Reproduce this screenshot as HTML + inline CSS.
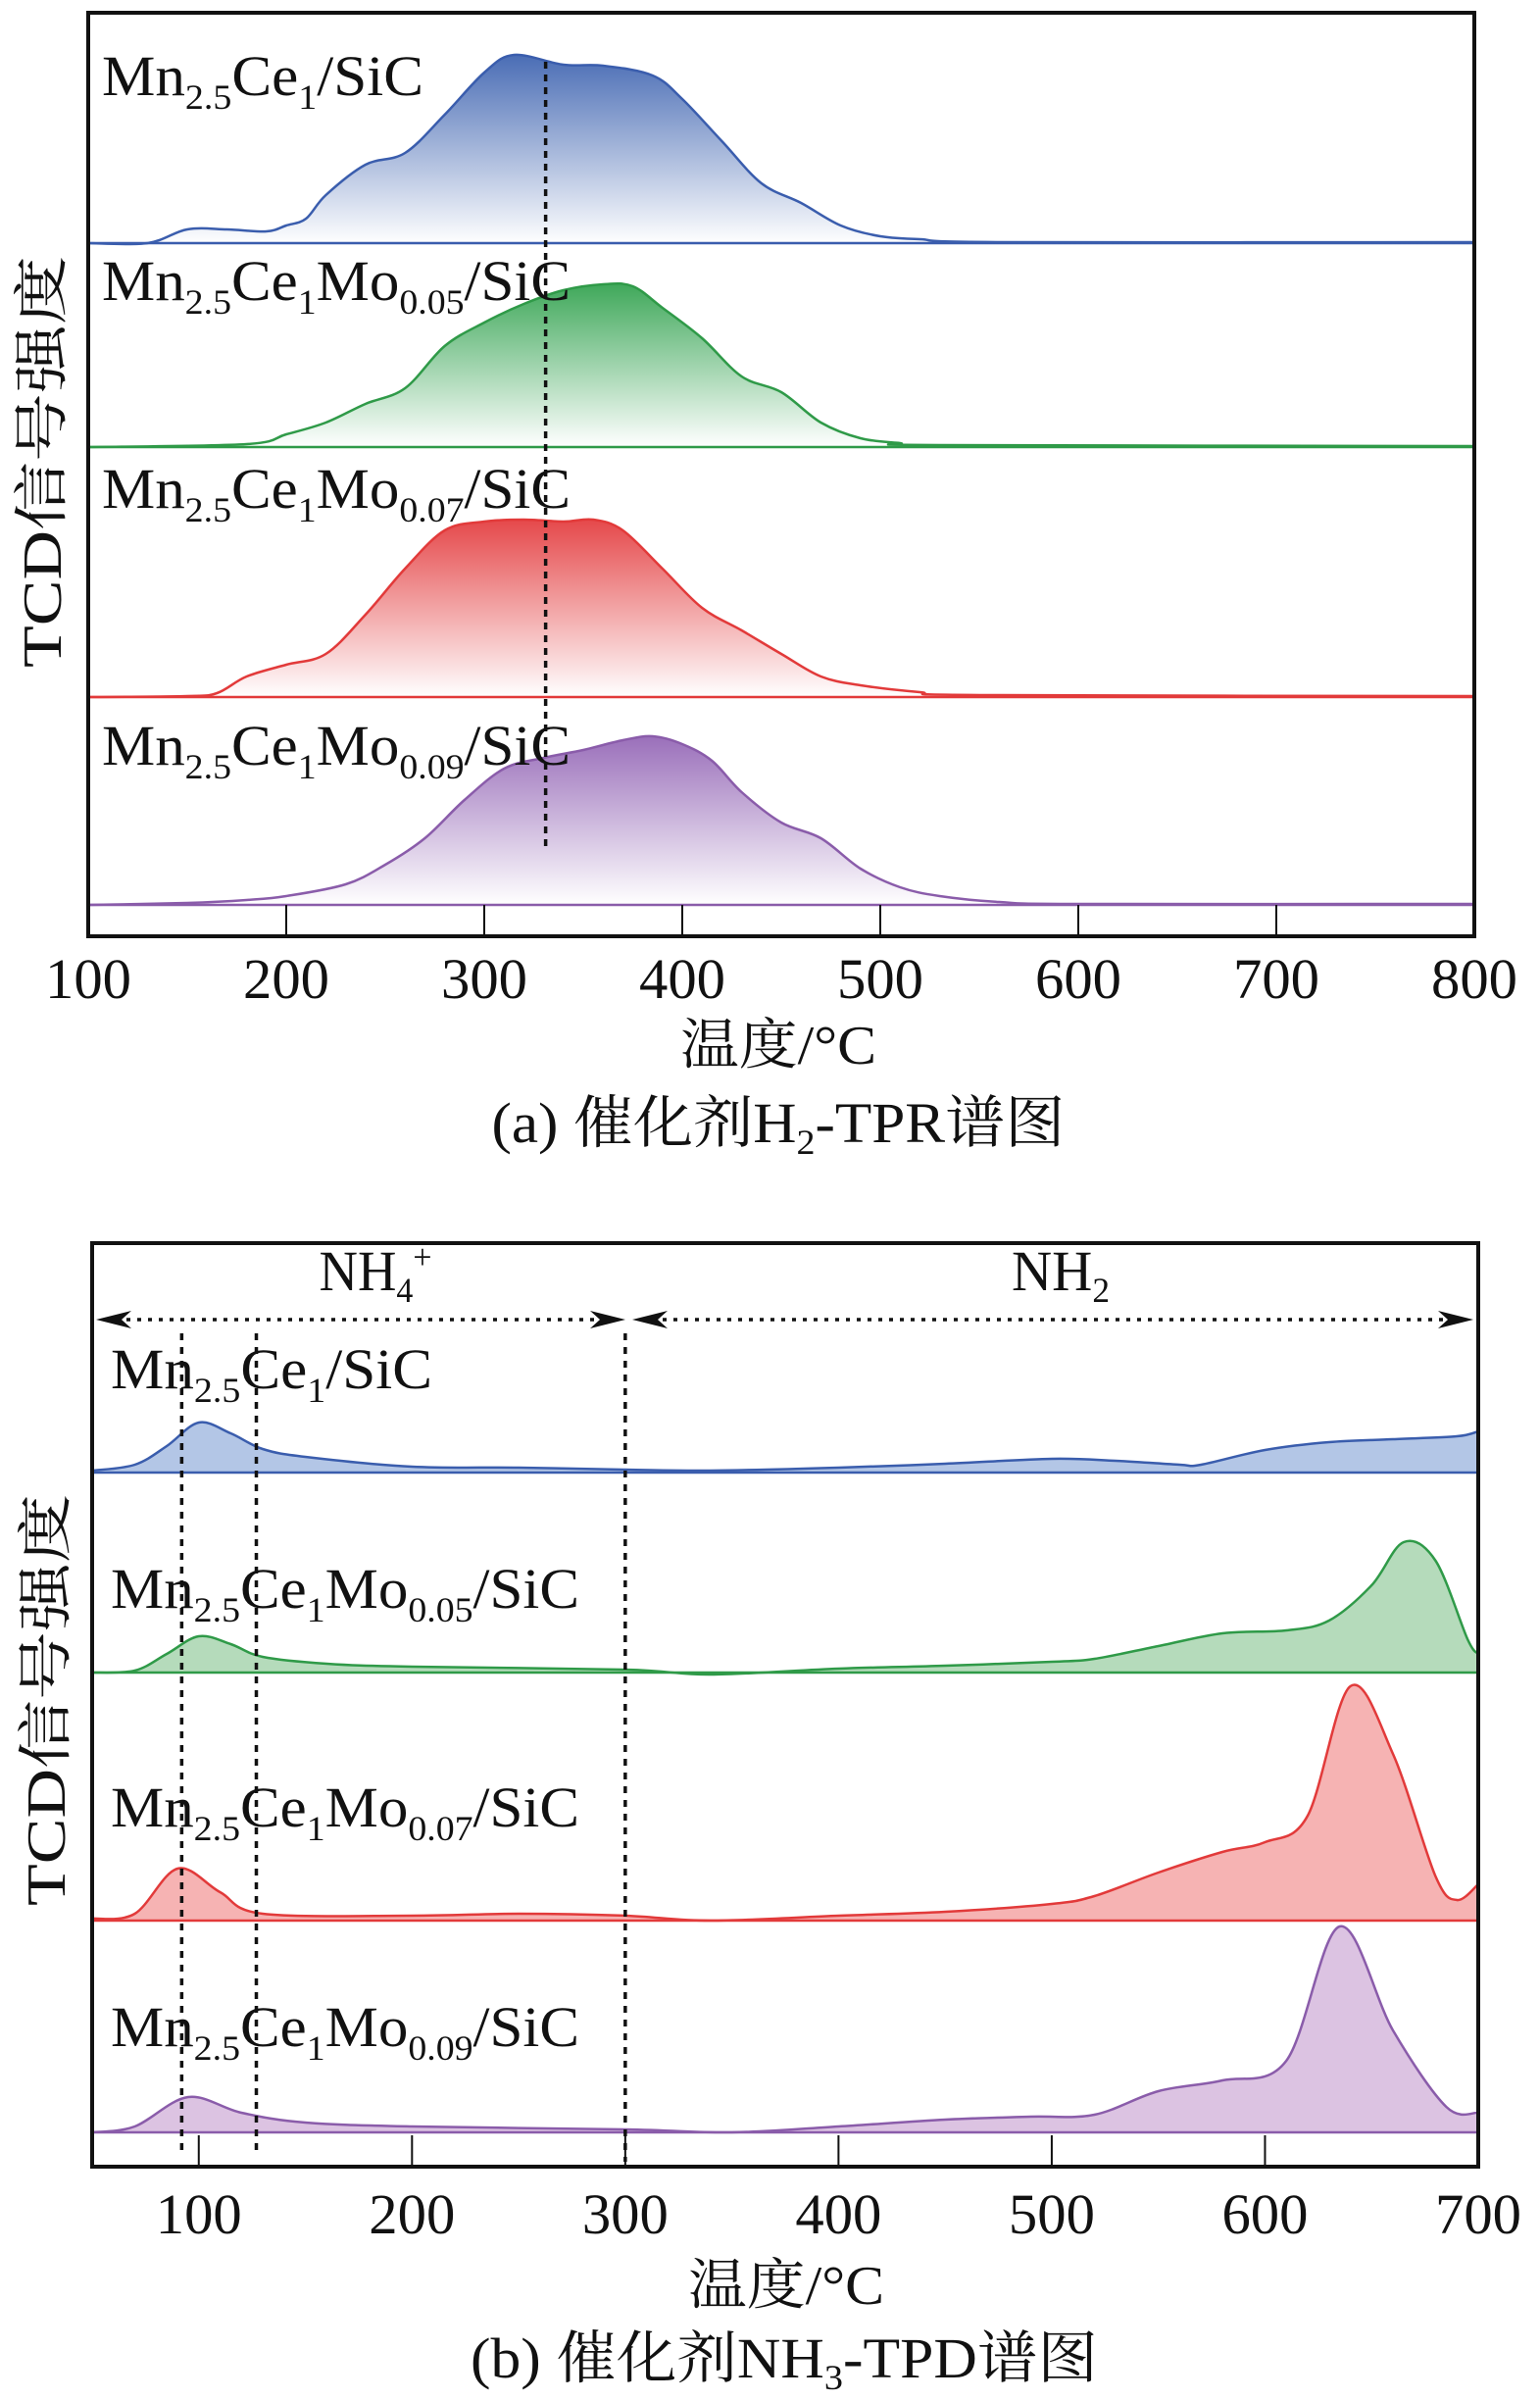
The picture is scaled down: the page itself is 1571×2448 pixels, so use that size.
<!DOCTYPE html>
<html><head><meta charset="utf-8"><style>
html,body{margin:0;padding:0;background:#fff;}
svg{display:block;}
text{font-family:"Liberation Serif","Noto Serif CJK SC",serif;fill:#111;}
</style></head><body>
<svg id="fig" width="1571" height="2448" viewBox="0 0 1571 2448" xmlns="http://www.w3.org/2000/svg">
<defs>
<linearGradient id="gBlue" x1="0" y1="0" x2="0" y2="1"><stop offset="0" stop-color="#4a6db5"/><stop offset="1" stop-color="#ffffff"/></linearGradient>
<linearGradient id="gGreen" x1="0" y1="0" x2="0" y2="1"><stop offset="0" stop-color="#3fa85a"/><stop offset="1" stop-color="#ffffff"/></linearGradient>
<linearGradient id="gRed" x1="0" y1="0" x2="0" y2="1"><stop offset="0" stop-color="#e5484a"/><stop offset="1" stop-color="#ffffff"/></linearGradient>
<linearGradient id="gPurple" x1="0" y1="0" x2="0" y2="1"><stop offset="0" stop-color="#9a6fba"/><stop offset="1" stop-color="#ffffff"/></linearGradient>
</defs>
<g id="panelA"></g>
<g id="panelB"></g>
</svg>
<script>
// ---- Panel (a) H2-TPR data (temperature °C, intensity a.u.) ----
const aTicks = [100,200,300,400,500,600,700,800];
const aBlueT = [100,130,150,170,190,200,210,220,240,260,280,300,315,340,360,385,400,420,440,460,480,500,520,560,800];
const aBlueV = [0,0,14,14,12,18,25,49,80,92,131,174,192,182,181,171,147,104,61,41,18,7,4,1,1];
const aGreenT = [100,180,200,220,240,260,280,300,320,340,360,375,390,410,430,450,470,490,510,530,800];
const aGreenV = [0,3,13,25,44,60,103,127,146,160,166,164,142,111,72,56,25,9,4,2,1];
const aRedT = [100,150,165,180,200,220,240,260,280,300,320,340,355,370,390,410,430,450,470,490,520,550,800];
const aRedV = [0,1,4,21,33,44,84,131,170,179,181,179,181,170,131,91,68,44,21,12,5,2,1];
const aPurpleT = [100,150,180,200,230,250,270,290,310,330,350,370,385,400,415,430,450,470,490,510,530,560,600,800];
const aPurpleV = [0,2,5,9,21,41,68,107,139,150,158,168,172,164,147,115,84,68,37,18,9,3,1,1];
const aRefT = 331;

// ---- Panel (b) NH3-TPD data ----
const bTicks = [100,200,300,400,500,600,700];
const bBlueT = [50,70,85,100,115,130,150,200,250,300,340,400,450,500,530,560,570,600,630,660,690,700];
const bBlueV = [2,8,27,51,40,24,16,6,5,3,2,5,9,14,12,8,8,23,31,34,37,42];
const bGreenT = [50,70,85,100,115,130,160,200,300,340,400,450,500,520,550,580,610,630,650,665,680,695,700];
const bGreenV = [0,2,19,37,29,16,9,6,3,-2,4,7,11,14,27,40,43,53,89,133,114,34,19];
const bRedT = [50,70,90,110,130,200,250,300,340,400,450,500,520,550,580,600,620,640,660,680,690,700];
const bRedV = [2,7,53,29,7,5,7,5,0,5,9,17,25,49,70,80,107,239,170,45,21,37];
const bPurpleT = [50,70,95,120,150,200,300,350,400,450,490,520,550,580,610,635,660,685,700];
const bPurpleV = [0,6,36,20,10,6,3,0,6,13,16,18,42,53,73,210,104,26,20];
const bRefT = [92,127,300];

const NS = "http://www.w3.org/2000/svg";
function mk(parent, tag, attrs){ const e=document.createElementNS(NS,tag); for(const k in attrs) e.setAttribute(k,attrs[k]); parent.appendChild(e); return e; }

// axis functions
const axA = {x0:90, x1:1504, y0:13, y1:955, tmin:100, tmax:800};
const axB = {x0:94, x1:1508, y0:1268, y1:2210, tmin:50, tmax:700};
function sx(ax,t){ return ax.x0 + (t-ax.tmin)*(ax.x1-ax.x0)/(ax.tmax-ax.tmin); }
function sy(base,v){ return base - v; }

function smoothPath(pts){
  let d = "M"+pts[0][0].toFixed(1)+","+pts[0][1].toFixed(1);
  for(let i=0;i<pts.length-1;i++){
    const p0=pts[Math.max(0,i-1)], p1=pts[i], p2=pts[i+1], p3=pts[Math.min(pts.length-1,i+2)];
    const c1=[p1[0]+(p2[0]-p0[0])/6, p1[1]+(p2[1]-p0[1])/6];
    const c2=[p2[0]-(p3[0]-p1[0])/6, p2[1]-(p3[1]-p1[1])/6];
    d+=" C"+c1[0].toFixed(1)+","+c1[1].toFixed(1)+" "+c2[0].toFixed(1)+","+c2[1].toFixed(1)+" "+p2[0].toFixed(1)+","+p2[1].toFixed(1);
  }
  return d;
}

function drawCurve(g, ax, T, V, base, stroke, fill, name){
  const pts = T.map((t,i)=>[sx(ax,t), sy(base,V[i])]);
  const line = smoothPath(pts);
  const area = line + " L"+pts[pts.length-1][0].toFixed(1)+","+base+" L"+pts[0][0].toFixed(1)+","+base+" Z";
  const a = mk(g,"path",{d:area, fill:fill, stroke:"none"});
  
  
  const bl = mk(g,"line",{x1:pts[0][0], y1:base, x2:pts[pts.length-1][0], y2:base, stroke:stroke, "stroke-width":2.5});
  
  
  const l = mk(g,"path",{d:line, fill:"none", stroke:stroke, "stroke-width":2.5});
  
  
}

function sampleLabel(g, x, y, mo, name){
  const t = mk(g,"text",{x:x, y:y, "font-size":58});
  
  
  t.innerHTML = 'Mn<tspan font-size="36" dy="14">2.5</tspan><tspan dy="-14">Ce</tspan><tspan font-size="36" dy="14">1</tspan>' +
    (mo ? '<tspan dy="-14">Mo</tspan><tspan font-size="36" dy="14">'+mo+'</tspan><tspan dy="-14">/SiC</tspan>' : '<tspan dy="-14">/SiC</tspan>');
  t.setAttribute("textLength", mo ? 478 : 328);
  t.setAttribute("lengthAdjust","spacingAndGlyphs");
}

function frameAndTicks(g, ax, ticks, tickBase, name){
  ticks.forEach(v=>{
    const x = sx(ax,v);
    const tk = mk(g,"line",{x1:x,y1:ax.y1,x2:x,y2:ax.y1-32,stroke:"#111","stroke-width":2});
    
    
    const tl = mk(g,"text",{x:x, y:tickBase, "font-size":58, "text-anchor":"middle", textLength:88, lengthAdjust:"spacingAndGlyphs"});
    
    
    tl.textContent = v;
  });
  const fr = mk(g,"rect",{x:ax.x0, y:ax.y0, width:ax.x1-ax.x0, height:ax.y1-ax.y0, fill:"none", stroke:"#111","stroke-width":4});
  
  
}

// ---------- Panel A ----------
const gA = document.getElementById("panelA");
drawCurve(gA, axA, aBlueT, aBlueV, 248, "#3a5dad", "url(#gBlue)", "a-blue-series");
drawCurve(gA, axA, aGreenT, aGreenV, 456, "#2f9a48", "url(#gGreen)", "a-green-series");
drawCurve(gA, axA, aRedT, aRedV, 711, "#e23a3a", "url(#gRed)", "a-red-series");
drawCurve(gA, axA, aPurpleT, aPurpleV, 923, "#8a5caa", "url(#gPurple)", "a-purple-series");
const refA = mk(gA,"line",{x1:sx(axA,aRefT),y1:63,x2:sx(axA,aRefT),y2:867,stroke:"#111","stroke-width":3.5,"stroke-dasharray":"7,6"});


sampleLabel(gA, 104, 97, null, "a-label-mn-ce");
sampleLabel(gA, 104, 306, "0.05", "a-label-mo-005");
sampleLabel(gA, 104, 518, "0.07", "a-label-mo-007");
sampleLabel(gA, 104, 780, "0.09", "a-label-mo-009");
frameAndTicks(gA, axA, aTicks, 1018, "a-x-axis");

// ---------- Panel B ----------
const gB = document.getElementById("panelB");
drawCurve(gB, axB, bBlueT, bBlueV, 1502, "#3a5dad", "#b3c6e6", "b-blue-series");
drawCurve(gB, axB, bGreenT, bGreenV, 1706, "#2f9a48", "#b5dbbb", "b-green-series");
drawCurve(gB, axB, bRedT, bRedV, 1959, "#e23a3a", "#f6b3b3", "b-red-series");
drawCurve(gB, axB, bPurpleT, bPurpleV, 2175, "#8a5caa", "#dcc3e2", "b-purple-series");
bRefT.forEach((t,i)=>{
  const l = mk(gB,"line",{x1:sx(axB,t),y1:1360,x2:sx(axB,t),y2:(i==2?2205:2198),stroke:"#111","stroke-width":3.5,"stroke-dasharray":"7,7"});
  
  
});
sampleLabel(gB, 113, 1416, null, "b-label-mn-ce");
sampleLabel(gB, 113, 1640, "0.05", "b-label-mo-005");
sampleLabel(gB, 113, 1863, "0.07", "b-label-mo-007");
sampleLabel(gB, 113, 2087, "0.09", "b-label-mo-009");
frameAndTicks(gB, axB, bTicks, 2278, "b-x-axis");

// arrows
function arrowLine(g, xa, xb, y, name){
  const l = mk(g,"line",{x1:xa+20,y1:y,x2:xb-20,y2:y,stroke:"#111","stroke-width":3.5,"stroke-dasharray":"4,7"});
  
  
  const h1 = mk(g,"path",{d:`M${xa},${y} L${xa+36},${y-9} L${xa+26},${y} L${xa+36},${y+9} Z`,fill:"#111"});
  
  
  const h2 = mk(g,"path",{d:`M${xb},${y} L${xb-36},${y-9} L${xb-26},${y} L${xb-36},${y+9} Z`,fill:"#111"});
  
  
}
arrowLine(gB, 98, 638, 1346, "nh4-range-arrow");
arrowLine(gB, 645, 1503, 1346, "nh2-range-arrow");
</script>
<svg width="0" height="0" style="position:absolute"></svg>
<script>
const svg = document.getElementById("fig");
function addText(x,y,size,html,len,name,rot){
  const t = document.createElementNS("http://www.w3.org/2000/svg","text");
  t.setAttribute("x",x); t.setAttribute("y",y); t.setAttribute("font-size",size);
  t.setAttribute("text-anchor","middle");
  if(len){ t.setAttribute("textLength",len); t.setAttribute("lengthAdjust","spacingAndGlyphs"); }
  if(rot) t.setAttribute("transform",rot);
  
  
  t.innerHTML = html;
  svg.appendChild(t);
}
addText(794,1085,56,'温度/°C',200,'a-x-axis-title');
addText(794,1165,58,'(a) 催化剂H<tspan font-size="36" dy="12">2</tspan><tspan dy="-12">-TPR谱图</tspan>',585,'a-caption');
addText(0,0,56,'TCD信号强度',420,'a-y-axis-title','translate(62,471) rotate(-90)');
addText(802,2350,56,'温度/°C',200,'b-x-axis-title');
addText(800,2425,58,'(b) 催化剂NH<tspan font-size="36" dy="12">3</tspan><tspan dy="-12">-TPD谱图</tspan>',640,'b-caption');
addText(0,0,56,'TCD信号强度',420,'b-y-axis-title','translate(66,1734) rotate(-90)');
addText(383,1316,58,'NH<tspan font-size="36" dy="12">4</tspan><tspan font-size="36" dy="-34">+</tspan>',115,'nh4-label');
addText(1082,1316,58,'NH<tspan font-size="36" dy="12">2</tspan>',100,'nh2-label');
</script>
</body></html>
